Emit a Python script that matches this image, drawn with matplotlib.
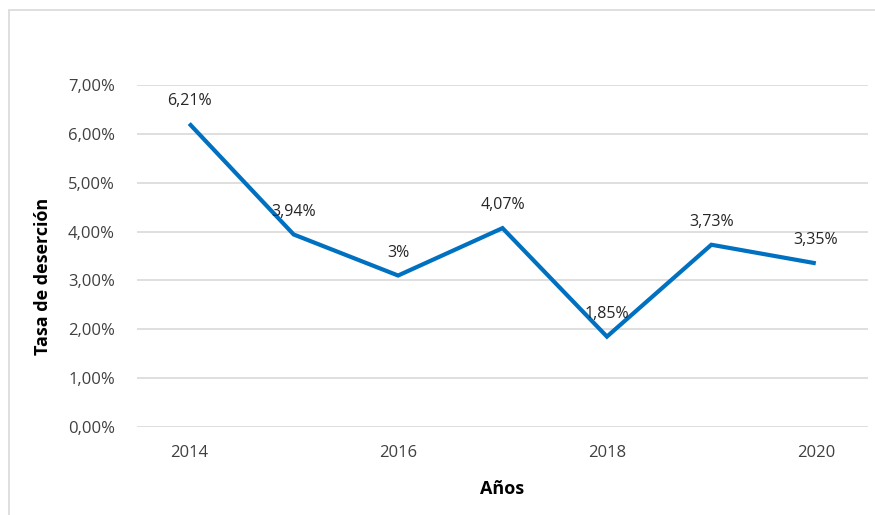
"""Tasa de deserción por año (line chart)."""

import matplotlib.pyplot as plt
from matplotlib.patches import Rectangle

years = [2014, 2015, 2016, 2017, 2018, 2019, 2020]
rate = [6.21, 3.94, 3.10, 4.07, 1.85, 3.73, 3.35]
point_labels = ["6,21%", "3,94%", "3%", "4,07%", "1,85%", "3,73%", "3,35%"]
y_ticks = [0, 1, 2, 3, 4, 5, 6, 7]
y_tick_labels = ["0,00%", "1,00%", "2,00%", "3,00%", "4,00%", "5,00%", "6,00%", "7,00%"]
x_ticks = [2014, 2016, 2018, 2020]

plt.rcParams["font.family"] = ["Open Sans", "DejaVu Sans"]

fig = plt.figure(figsize=(8.75, 5.15), dpi=100)
ax = fig.add_axes([0.1566, 0.1709, 0.8354, 0.6641])

# chart-area border like the spreadsheet export
fig.patches.append(Rectangle((9 / 875, -0.01), 1.0, 1 - 10 / 515 + 0.01,
                             transform=fig.transFigure, fill=False,
                             edgecolor="#d9d9d9", linewidth=1.2))

ax.plot(years, rate, color="#0070C0", linewidth=3.0, solid_capstyle="butt",
        solid_joinstyle="miter")
for x, y, s in zip(years, rate, point_labels):
    ax.annotate(s, (x, y), textcoords="offset points", xytext=(0, 16.5),
                ha="center", va="center", fontsize=11.5, color="#262626")

ax.set_xlim(2013.5, 2020.5)
ax.set_ylim(0, 7)
ax.set_yticks(y_ticks)
ax.set_yticklabels(y_tick_labels)
ax.set_xticks(x_ticks)
ax.grid(axis="y", color="#d9d9d9", linewidth=1.2)
ax.set_axisbelow(True)
for sp in ax.spines.values():
    sp.set_visible(False)
ax.tick_params(length=0, labelsize=12, colors="#404040", pad=13)
ax.tick_params(axis="y", pad=16)

ax.set_xlabel("Años", fontsize=13, fontweight="bold", labelpad=14)
ax.set_ylabel("Tasa de deserción", fontsize=13, fontweight="bold")
ax.yaxis.set_label_coords(-0.117, 0.44)

fig.savefig("out.png", dpi=100)
